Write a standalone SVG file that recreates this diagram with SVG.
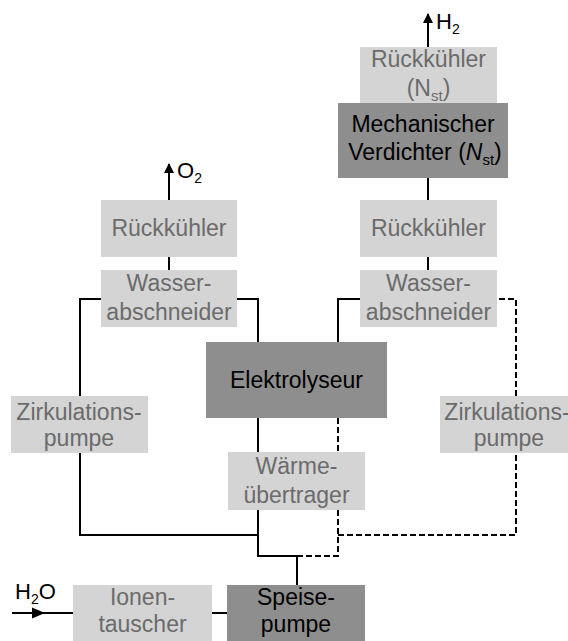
<svg xmlns="http://www.w3.org/2000/svg" width="568" height="641" viewBox="0 0 568 641">
<style>
text{font-family:"Liberation Sans",Arial,sans-serif;font-size:23px;text-anchor:middle}
.lt rect{fill:#d4d4d4}
.lt text{fill:#6b6b6b}
.dk rect{fill:#8e8e8e}
.dk text{fill:#000}
.ln{fill:none;stroke:#000;stroke-width:2}
.ds{fill:none;stroke:#000;stroke-width:2;stroke-dasharray:6 3}
.lbl{text-anchor:start;fill:#000;font-size:22px}
</style>
<defs>
<marker id="ah" viewBox="0 0 10 10" refX="9" refY="5" markerWidth="5" markerHeight="5" orient="auto" markerUnits="strokeWidth"><path d="M0,0L10,5L0,10z" fill="#000"/></marker>
</defs>
<g id="connectors">
<path class="ln" d="M428,47V14" marker-end="url(#ah)"/>
<path class="ln" d="M169,200V164" marker-end="url(#ah)"/>
<path class="ln" d="M428,178V200M428,257V270M169,257V270"/>
<path class="ln" d="M101,299H80V396M80,453V535H258"/>
<path class="ln" d="M237,299H258V342"/>
<path class="ln" d="M258,418V452M258,510V556H297V585"/>
<path class="ln" d="M360,299H338V342"/>
<path class="ds" d="M338,418V452M338,510V556H297M338,535H516V453M516,396V299H497"/>
<path class="ln" d="M212,613H227"/>
<path class="ln" d="M12,613H73"/>
<polygon points="45,613 32,607.5 32,618.5" fill="#000"/>
</g>
<text class="lbl" x="436" y="29">H<tspan font-size="14" dy="5">2</tspan></text>
<text class="lbl" x="177" y="178">O<tspan font-size="14" dy="5">2</tspan></text>
<text class="lbl" x="15" y="599">H<tspan font-size="14" dy="5">2</tspan><tspan dy="-5">O</tspan></text>
<g id="rueckkuehler_nst" class="lt"><rect x="360" y="47" width="137" height="56"/><text x="428.5" y="67">Rückkühler</text><text x="428.5" y="96">(N<tspan font-size="15" dy="5">st</tspan><tspan dy="-5">)</tspan></text></g>
<g id="verdichter" class="dk"><rect x="338" y="103" width="170" height="75"/><text x="423" y="132">Mechanischer</text><text x="425" y="160">Verdichter (<tspan font-style="italic">N</tspan><tspan font-size="15" dy="5">st</tspan><tspan dy="-5">)</tspan></text></g>
<g id="rueckkuehler_o2" class="lt"><rect x="101" y="200" width="136" height="57"/><text x="169" y="236">Rückkühler</text></g>
<g id="wasserabscheider_o2" class="lt"><rect x="101" y="270" width="136" height="57"/><text x="169" y="291">Wasser-</text><text x="169" y="320">abschneider</text></g>
<g id="rueckkuehler_h2" class="lt"><rect x="360" y="200" width="137" height="57"/><text x="428.5" y="236">Rückkühler</text></g>
<g id="wasserabscheider_h2" class="lt"><rect x="360" y="270" width="137" height="57"/><text x="428.5" y="291">Wasser-</text><text x="428.5" y="320">abschneider</text></g>
<g id="elektrolyseur" class="dk"><rect x="206" y="342" width="181" height="76"/><text x="296.5" y="388">Elektrolyseur</text></g>
<g id="zirkulationspumpe_o2" class="lt"><rect x="11" y="396" width="137" height="57"/><text x="79" y="420">Zirkulations-</text><text x="79" y="446">pumpe</text></g>
<g id="zirkulationspumpe_h2" class="lt"><rect x="440" y="396" width="140" height="57"/><text x="507" y="420">Zirkulations-</text><text x="509" y="446">pumpe</text></g>
<g id="waermeuebertrager" class="lt"><rect x="228" y="452" width="137" height="58"/><text x="296.5" y="474">Wärme-</text><text x="296.5" y="503">übertrager</text></g>
<g id="ionentauscher" class="lt"><rect x="73" y="585" width="139" height="60"/><text x="142.5" y="605">Ionen-</text><text x="142.5" y="632">tauscher</text></g>
<g id="speisepumpe" class="dk"><rect x="227" y="585" width="138" height="60"/><text x="296" y="605">Speise-</text><text x="296" y="632">pumpe</text></g>
</svg>
